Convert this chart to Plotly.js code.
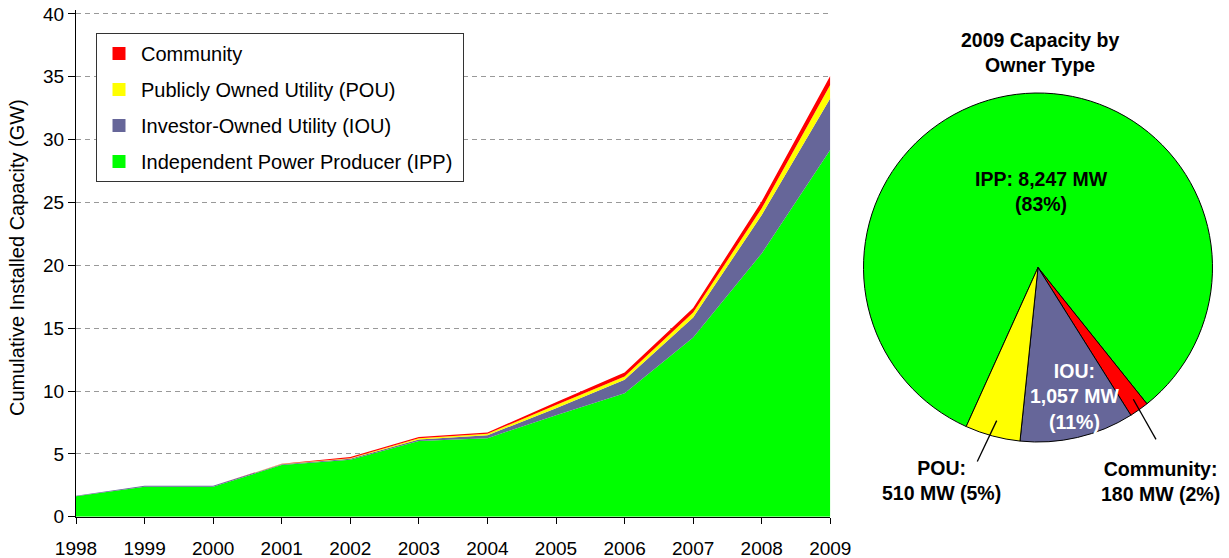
<!DOCTYPE html>
<html>
<head>
<meta charset="utf-8">
<script src="https://cdn.plot.ly/plotly-3.0.1.min.js"></script>
<style>
  html, body { margin: 0; padding: 0; background: #fff; }
  #chart { width: 1229px; height: 558px; }
</style>
</head>
<body>
<div id="chart"></div>
<script>
// ---- Data (GW, cumulative) ----
const years = [1998, 1999, 2000, 2001, 2002, 2003, 2004, 2005, 2006, 2007, 2008, 2009];
const ipp       = [1.62, 2.39, 2.39, 4.11, 4.53, 6.02, 6.25, 8.08, 9.83, 14.25, 20.95, 29.2];
const iou       = [0.04, 0.07, 0.07, 0.07, 0.08, 0.12, 0.23, 0.55, 1.07, 1.6, 3.05, 4.1];
const pou       = [0.0, 0.0, 0.0, 0.01, 0.05, 0.1, 0.12, 0.25, 0.26, 0.4, 0.55, 1.06];
const community = [0.0, 0.0, 0.0, 0.02, 0.09, 0.1, 0.1, 0.22, 0.32, 0.35, 0.55, 0.73];

const seriesNames = ['Independent Power Producer (IPP)', 'Investor-Owned Utility (IOU)', 'Publicly Owned Utility (POU)', 'Community'];
const yTickVals = [0, 5, 10, 15, 20, 25, 30, 35, 40];

// 2009 additions (MW) for the pie
const pieLabels = ['IPP', 'Community', 'IOU', 'POU'];
const pieValues = [8247, 180, 1057, 510];

const colors = { IPP: '#00FF00', IOU: '#666699', POU: '#FFFF00', Community: '#FF0000' };

const FONT = '"Liberation Sans", Arial, sans-serif';
const W = 1229, H = 558;
const px = v => v / W;
const py = v => (H - v) / H;

const areaData = [ipp, iou, pou, community];
const areaKeys = ['IPP', 'IOU', 'POU', 'Community'];

const traces = areaData.map((d, i) => ({
  type: 'scatter',
  x: years,
  y: d,
  name: seriesNames[i],
  stackgroup: 'one',
  mode: 'none',
  fillcolor: colors[areaKeys[i]],
  line: { width: 0 },
  showlegend: false,
  hoverinfo: 'x+y+name'
}));

// Legend entries (square swatches), top-to-bottom
const legendOrder = [3, 2, 1, 0];
legendOrder.forEach((i, k) => {
  traces.push({
    type: 'scatter',
    x: [null], y: [null],
    mode: 'markers',
    name: seriesNames[i] + '\u00a0',
    legendgroup: 'g' + k,
    marker: { symbol: 'square', size: 13, color: colors[areaKeys[i]] },
    showlegend: true
  });
});

const total = pieValues.reduce((a, b) => a + b, 0);
traces.push({
  type: 'pie',
  labels: pieLabels,
  values: pieValues,
  sort: false,
  direction: 'clockwise',
  rotation: -155.7,
  textinfo: 'none',
  hoverinfo: 'label+value+percent',
  marker: { colors: pieLabels.map(l => colors[l]), line: { color: '#000', width: 1 } },
  domain: { x: [px(863), px(1213)], y: [py(442), py(93)] },
  showlegend: false
});

const pct = v => Math.round(v / total * 100) + '%';
const fmt = v => v.toLocaleString('en-US');
const pv = l => pieValues[pieLabels.indexOf(l)];

const annotations = [
  { text: '<b>2009 Capacity by<br>Owner Type</b>', x: px(1039.5), y: py(52.5) },
  { text: '<b>IPP: ' + fmt(pv('IPP')) + ' MW<br>(' + pct(pv('IPP')) + ')</b>', x: px(1041), y: py(191.5) },
  { text: '<b>IOU:<br>' + fmt(pv('IOU')) + ' MW<br>(' + pct(pv('IOU')) + ')</b>', x: px(1074.5), y: py(396.5), color: '#fff' },
  { text: '<b>POU:<br>' + fmt(pv('POU')) + ' MW (' + pct(pv('POU')) + ')</b>', x: px(941.7), y: py(480.5) },
  { text: '<b>Community:<br>' + fmt(pv('Community')) + ' MW (' + pct(pv('Community')) + ')</b>', x: px(1160.5), y: py(481) },
  { text: 'Cumulative Installed Capacity (GW)', x: px(17), y: py(258), textangle: -90, plain: true }
].map(a => ({
  xref: 'paper', yref: 'paper', x: a.x, y: a.y,
  xanchor: 'center', yanchor: 'middle', showarrow: false, align: 'center',
  text: a.text, textangle: a.textangle || 0,
  font: a.plain ? { family: FONT, size: 20, color: '#000' } : { family: FONT, size: 19.5, color: a.color || '#000' }
}));

const shapes = [
  { type: 'line', xref: 'paper', yref: 'paper', x0: px(996.7), y0: py(420.6), x1: px(977.3), y1: py(461.5), line: { color: '#000', width: 1.3 } },
  { type: 'line', xref: 'paper', yref: 'paper', x0: px(1133.3), y0: py(399.2), x1: px(1156), y1: py(439.4), line: { color: '#000', width: 1.3 } }
];

const layout = {
  width: W, height: H,
  margin: { l: 0, r: 0, t: 0, b: 0 },
  paper_bgcolor: '#fff', plot_bgcolor: 'rgba(0,0,0,0)',
  font: { family: FONT, size: 19, color: '#000' },
  showlegend: true,
  legend: {
    x: px(96), y: py(33), xanchor: 'left', yanchor: 'top',
    bgcolor: '#fff', bordercolor: '#333', borderwidth: 1,
    font: { family: FONT, size: 20, color: '#000' },
    traceorder: 'grouped', tracegroupgap: 7, itemwidth: 34
  },
  xaxis: {
    domain: [px(76), px(830.3)],
    range: [1998, 2009],
    tickmode: 'array', tickvals: years, ticktext: years.map(String),
    ticks: 'outside', ticklen: 6, tickcolor: '#000', tickwidth: 1,
    ticklabelstandoff: 8,
    showline: true, linecolor: '#000', linewidth: 1,
    showgrid: false, zeroline: false,
    tickfont: { family: FONT, size: 19, color: '#000' },
    fixedrange: true
  },
  yaxis: {
    domain: [py(516.7), py(10.2)],
    range: [0, 40.3],
    tickmode: 'array', tickvals: yTickVals,
    ticks: 'outside', ticklen: 7, tickcolor: '#000', tickwidth: 1,
    showline: true, linecolor: '#000', linewidth: 1,
    showgrid: true, gridcolor: '#999', gridwidth: 1, griddash: '5px,4px',
    zeroline: false,
    tickfont: { family: FONT, size: 19, color: '#000' },
    fixedrange: true
  },
  annotations: annotations,
  shapes: shapes
};

Plotly.newPlot('chart', traces, layout, { displayModeBar: false, staticPlot: true });
</script>
</body>
</html>
